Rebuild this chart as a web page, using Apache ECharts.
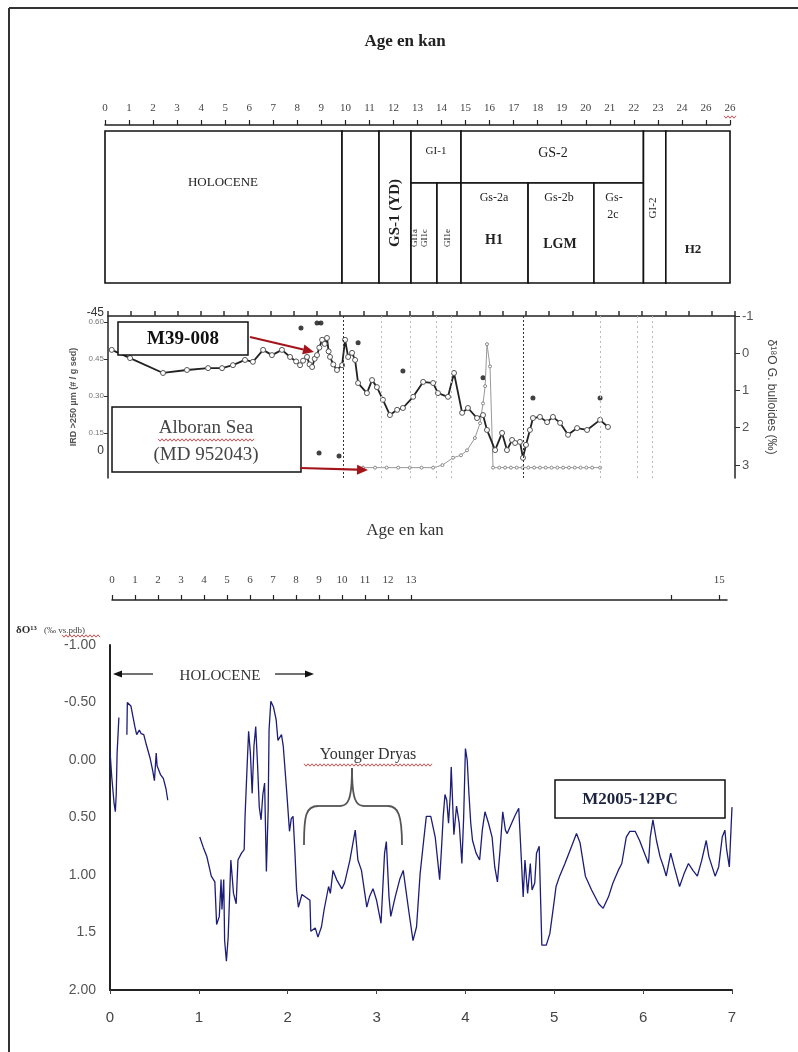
<!DOCTYPE html>
<html>
<head>
<meta charset="utf-8">
<title>Age en kan</title>
<script src="https://cdn.jsdelivr.net/npm/echarts@6/dist/echarts.min.js"></script>
<style>
  html, body { margin: 0; padding: 0; background: #fff; }
  #main { width: 798px; height: 1052px; }
</style>
</head>
<body>
<div id="main"></div>
<script>
// echelle du haut (age en kan), le 25 est ecrit 26 sur la figure
var topTickLabels = ['0','1','2','3','4','5','6','7','8','9','10','11','12','13','14','15','16','17','18','19','20','21','22','23','24','26','26']

// tableau stratigraphique : debut / fin (kan) et lignes (0 = haut, 1 = bas)
var periodStart  = [0,    9.86, 11.4,  12.73, 12.73, 13.81, 14.81, 14.81, 17.6,  20.34, 22.4,  23.33]
var periodEnd    = [9.86, 11.4, 12.73, 14.81, 13.81, 14.81, 22.4,  17.6,  20.34, 22.4,  23.33, 26]
var periodTop    = [0,    0,    0,     0,     0.342, 0.342, 0,     0.342, 0.342, 0.342, 0,     0]
var periodBottom = [1,    1,    1,     0.342, 1,     1,     0.342, 1,     1,     1,     1,     1]

// M39-008 : d18O G. bulloides (axe de droite)
var midAge = [0.16,0.95,2.37,3.40,4.31,4.91,5.38,5.90,6.24,6.68,
  7.06,7.49,7.84,8.10,8.27,8.40,8.57,8.68,8.79,8.90,
  9.00,9.10,9.22,9.33,9.43,9.50,9.56,9.70,9.86,10.08,
  10.21,10.34,10.51,10.64,10.77,11.15,11.37,11.58,11.84,12.14,
  12.45,12.70,13.14,13.57,14.00,14.21,14.64,14.90,15.25,15.50,
  15.89,16.15,16.32,16.67,16.97,17.18,17.40,17.53,17.74,17.87,
  18.00,18.17,18.30,18.60,18.91,19.16,19.47,19.81,20.20,20.63,
  21.19,21.53]
var midD18O = [-0.09,0.13,0.53,0.45,0.40,0.40,0.32,0.18,0.23,-0.09,
  0.05,-0.09,0.10,0.22,0.32,0.20,0.10,0.30,0.37,0.15,
  0.05,-0.15,-0.36,-0.25,-0.41,-0.05,0.10,0.30,0.45,0.32,
  -0.36,0.10,-0.01,0.18,0.80,1.07,0.72,0.91,1.25,1.66,
  1.52,1.47,1.17,0.77,0.80,1.07,1.17,0.53,1.60,1.47,
  1.74,1.66,2.06,2.60,2.14,2.60,2.33,2.41,2.38,2.81,
  2.46,2.06,1.74,1.71,1.85,1.71,1.87,2.19,2.01,2.06,
  1.79,1.98]

// IRD > 250 um (axe de gauche)
var irdAge = [10.98,11.5,12.0,12.5,13.0,13.5,14.0,14.4,14.86,15.2,
  15.46,15.8,16.02,16.15,16.24,16.32,16.45,16.58,16.85,17.1,
  17.35,17.6,17.85,18.1,18.35,18.6,18.85,19.1,19.35,19.6,
  19.85,20.1,20.35,20.6,20.85,21.19]
var irdValue = [0.01,0.01,0.01,0.01,0.01,0.01,0.01,0.02,0.05,0.06,
  0.08,0.13,0.19,0.27,0.34,0.51,0.42,0.01,0.01,0.01,
  0.01,0.01,0.01,0.01,0.01,0.01,0.01,0.01,0.01,0.01,
  0.01,0.01,0.01,0.01,0.01,0.01]

// points noirs (dates)
var dateAge  = [8.31, 9.0, 9.17, 10.77, 12.70, 16.15, 18.30, 21.19, 9.09, 9.95]
var dateD18O = [-0.68, -0.81, -0.81, -0.28, 0.48, 0.66, 1.20, 1.20, 2.68, 2.76]

var midDenseLines = [10.12, 17.9]
var midLightLines = [11.76, 13.0, 14.13, 14.77, 21.19, 22.78, 23.43]
var irdTicks = [0.15, 0.30, 0.45, 0.60]
var rightTicks = [-1, 0, 1, 2, 3]

// echelle du milieu
var rulerTicks = [0,1,2,3,4,5,6,7,8,9,10,11,12,13,24.3,26.4]
var rulerLabelValues = [0,1,2,3,4,5,6,7,8,9,10,11,12,13,26.4]
var rulerLabels = ['0','1','2','3','4','5','6','7','8','9','10','11','12','13','15']

// M2005-12PC (null = pas de donnees)
var bottomAge = [0.00,0.02,0.045,0.06,0.07,0.08,0.10,0.15,0.19,0.195,
  0.21,0.235,0.255,0.28,0.30,0.33,0.35,0.38,0.41,0.45,
  0.48,0.50,0.52,0.53,0.55,0.57,0.60,0.63,0.65,0.85,
  1.01,1.05,1.09,1.14,1.18,1.20,1.23,1.25,1.26,1.28,
  1.29,1.31,1.33,1.36,1.39,1.42,1.44,1.48,1.51,1.52,
  1.54,1.56,1.58,1.60,1.62,1.64,1.66,1.68,1.70,1.72,
  1.74,1.76,1.78,1.79,1.81,1.84,1.87,1.89,1.93,1.95,
  1.99,2.02,2.04,2.06,2.08,2.10,2.12,2.16,2.25,2.26,
  2.31,2.34,2.38,2.41,2.46,2.48,2.51,2.55,2.61,2.64,
  2.70,2.76,2.79,2.83,2.89,2.92,2.96,3.00,3.05,3.09,
  3.11,3.14,3.16,3.21,3.26,3.30,3.36,3.41,3.45,3.49,
  3.53,3.56,3.61,3.66,3.71,3.73,3.75,3.77,3.79,3.81,
  3.83,3.84,3.85,3.87,3.90,3.93,3.96,3.98,4.00,4.02,
  4.04,4.06,4.08,4.12,4.16,4.19,4.22,4.26,4.30,4.33,
  4.36,4.39,4.42,4.45,4.47,4.52,4.56,4.60,4.62,4.65,
  4.67,4.70,4.73,4.75,4.78,4.80,4.83,4.86,4.91,4.95,
  4.99,5.02,5.06,5.12,5.18,5.25,5.29,5.35,5.42,5.50,
  5.55,5.61,5.66,5.72,5.76,5.81,5.85,5.91,5.96,6.00,
  6.06,6.08,6.11,6.15,6.19,6.23,6.26,6.31,6.35,6.41,
  6.46,6.51,6.56,6.61,6.66,6.71,6.74,6.81,6.85,6.89,
  6.92,6.94,6.97,6.99,7.00]
var bottomD18O = [-0.08,0.15,0.37,0.45,0.30,-0.06,-0.37,null,-0.22,-0.50,
  -0.50,-0.47,-0.47,-0.29,-0.22,-0.26,-0.23,-0.22,-0.13,-0.02,
  0.09,0.18,-0.06,0.05,0.06,0.13,0.16,0.25,0.35,null,
  0.67,0.76,0.84,1.01,1.06,1.43,1.36,1.04,1.30,1.04,
  1.57,1.75,1.54,0.87,1.16,1.25,0.87,0.81,0.78,0.49,
  0.11,-0.25,-0.06,0.29,-0.12,-0.29,0.03,0.41,0.52,0.30,
  0.20,0.97,0.43,-0.26,-0.51,-0.46,-0.35,-0.17,-0.22,-0.12,
  0.29,0.62,0.51,0.49,0.78,1.13,1.28,1.17,1.22,1.49,
  1.46,1.54,1.45,1.30,1.10,1.16,0.96,1.04,1.12,1.07,
  0.87,0.61,0.87,0.96,1.28,1.19,1.12,1.22,1.42,0.81,
  0.71,1.19,1.36,1.19,1.04,0.96,1.30,1.57,1.45,0.99,
  0.70,0.49,0.49,0.67,1.04,0.78,0.49,0.30,0.35,0.55,
  0.30,0.06,0.25,0.65,0.40,0.55,0.90,0.50,-0.10,0.00,
  0.30,0.55,0.70,0.81,0.87,0.61,0.45,0.55,0.67,0.93,
  1.06,0.78,0.45,0.61,0.64,0.55,0.48,0.42,0.72,1.19,
  0.87,1.16,0.90,1.13,1.07,0.81,0.75,1.61,1.61,1.51,
  1.28,1.10,1.01,0.90,0.78,0.64,0.72,1.01,1.13,1.25,
  1.29,1.19,1.07,0.96,0.90,0.67,0.62,0.62,0.70,0.78,
  0.90,0.67,0.52,0.70,0.84,0.93,1.01,0.81,0.93,1.10,
  0.99,0.90,0.96,1.01,0.87,0.70,0.84,1.01,0.93,0.67,
  0.61,0.78,0.93,0.58,0.41]
var bottomYLabels = ['-1.00','-0.50','0.00','0.50','1.00','1.5','2.00']

var SERIF = '"Liberation Serif", "DejaVu Serif", serif'
var SANS = '"Liberation Sans", Arial, sans-serif'

function pairs (xs, ys) {
  return xs.map(function (x, i) { return [x, ys[i] === null ? '-' : ys[i]] })
}

// petits outils pour les annotations
function txt (x, y, text, font, opt) {
  opt = opt || {}
  return {
    type: 'text', z: 100, x: x, y: y, rotation: opt.rot || 0,
    style: {
      text: text, font: font, fill: opt.color || '#222',
      align: opt.align || 'center', verticalAlign: 'middle',
      textAlign: opt.align || 'center', textVerticalAlign: 'middle'
    }
  }
}
function box (x, y, w, h) {
  return { type: 'rect', z: 99, shape: { x: x, y: y, width: w, height: h }, style: { fill: '#fff', stroke: '#111', lineWidth: 1.5 } }
}
function seg (x1, y1, x2, y2, color, w) {
  return { type: 'line', z: 100, shape: { x1: x1, y1: y1, x2: x2, y2: y2 }, style: { stroke: color, lineWidth: w } }
}
function curve (x1, y1, c1x, c1y, c2x, c2y, x2, y2) {
  return {
    type: 'bezierCurve', z: 100,
    shape: { x1: x1, y1: y1, cpx1: c1x, cpy1: c1y, cpx2: c2x, cpy2: c2y, x2: x2, y2: y2 },
    style: { stroke: '#555', lineWidth: 1.8, fill: null }
  }
}
function arrow (x1, y1, x2, y2, color, w, hl, hw) {
  var dx = x2 - x1, dy = y2 - y1
  var len = Math.sqrt(dx * dx + dy * dy)
  var ux = dx / len, uy = dy / len
  var bx = x2 - ux * hl, by = y2 - uy * hl
  return [
    seg(x1, y1, bx, by, color, w),
    { type: 'polygon', z: 100, shape: { points: [[x2, y2], [bx - uy * hw, by + ux * hw], [bx + uy * hw, by - ux * hw]] }, style: { fill: color } }
  ]
}
function wavy (x0, x1, y) {
  var pts = []
  for (var x = x0, k = 0; x <= x1; x += 2, k++) pts.push([x, y + (k % 2 ? 1.2 : -1.2)])
  return { type: 'polyline', z: 100, shape: { points: pts }, style: { stroke: '#d42020', lineWidth: 0.8, fill: null } }
}

var graphics = [
  // cadre de la page
  seg(9, 8, 798, 8, '#333', 2),
  seg(9, 8, 9, 1052, '#333', 2),
  txt(405, 42, 'Age en kan', 'bold 17px ' + SERIF),
  wavy(724, 737, 117),
  // textes du tableau
  txt(223, 183, 'HOLOCENE', '13px ' + SERIF),
  txt(395, 213, 'GS-1 (YD)', 'bold 15px ' + SERIF, { rot: Math.PI / 2 }),
  txt(436, 151, 'GI-1', '11px ' + SERIF),
  txt(415, 238, 'GI1a', '9px ' + SERIF, { rot: Math.PI / 2 }),
  txt(425, 238, 'GI1c', '9px ' + SERIF, { rot: Math.PI / 2 }),
  txt(448, 238, 'GI1e', '9px ' + SERIF, { rot: Math.PI / 2 }),
  txt(553, 153, 'GS-2', '14px ' + SERIF),
  txt(494, 198, 'Gs-2a', '12px ' + SERIF),
  txt(494, 240, 'H1', 'bold 14px ' + SERIF),
  txt(559, 198, 'Gs-2b', '12px ' + SERIF),
  txt(560, 244, 'LGM', 'bold 14px ' + SERIF),
  txt(614, 198, 'Gs-', '12px ' + SERIF),
  txt(613, 215, '2c', '12px ' + SERIF),
  txt(653, 208, 'GI-2', '11px ' + SERIF, { rot: Math.PI / 2 }),
  txt(693, 250, 'H2', 'bold 13px ' + SERIF),
  // figure M39-008
  txt(104, 313, '-45', '12px ' + SANS, { align: 'right', color: '#333' }),
  txt(104, 451, '0', '12px ' + SANS, { align: 'right', color: '#333' }),
  box(118, 322, 130, 33),
  txt(183, 339, 'M39-008', 'bold 19px ' + SERIF, { color: '#111' }),
  box(112, 407, 189, 65),
  txt(206, 428, 'Alboran Sea', '19px ' + SERIF, { color: '#444' }),
  txt(206, 455, '(MD 952043)', '19px ' + SERIF, { color: '#444' }),
  wavy(158, 254, 440),
  txt(405, 531, 'Age en kan', '17px ' + SERIF, { color: '#333' }),
  // figure M2005-12PC
  txt(16, 630, 'δO¹³', 'bold 11px ' + SERIF, { align: 'left', color: '#333' }),
  txt(44, 631, '(‰ vs.pdb)', '9px ' + SERIF, { align: 'left', color: '#444' }),
  wavy(62, 100, 636),
  txt(220, 676, 'HOLOCENE', '15px ' + SERIF, { color: '#333' }),
  txt(368, 755, 'Younger Dryas', '16px ' + SERIF, { color: '#333' }),
  wavy(304, 432, 765),
  // accolade Younger Dryas
  curve(304, 845, 304, 815, 306, 806, 318, 806),
  seg(318, 806, 340, 806, '#555', 1.8),
  curve(340, 806, 348, 806, 352, 800, 352, 768),
  curve(352, 768, 352, 800, 356, 806, 364, 806),
  seg(364, 806, 388, 806, '#555', 1.8),
  curve(388, 806, 398, 806, 402, 815, 402, 845),
  box(555, 780, 170, 38),
  txt(630, 800, 'M2005-12PC', 'bold 17px ' + SERIF, { color: '#1c2340' })
]
graphics = graphics
  .concat(arrow(250, 337, 314, 352, '#a3151b', 2.2, 11, 5))
  .concat(arrow(300, 468, 368, 470, '#a3151b', 2.2, 11, 5))
  .concat(arrow(153, 674, 113, 674, '#111', 1.2, 9, 3.5))
  .concat(arrow(275, 674, 314, 674, '#111', 1.2, 9, 3.5))

var chart = echarts.init(document.getElementById('main'))

var axisLineDark = { show: true, onZero: false, lineStyle: { color: '#222', width: 1.5 } }

var option = {
  animation: false,
  backgroundColor: '#fff',
  grid: [
    { left: 105, right: 68, top: 131, height: 152 },
    { left: 108, right: 63, top: 316, bottom: 574 },
    { left: 112, right: 71, top: 600, height: 1 },
    { left: 110, right: 66, top: 645, bottom: 62 }
  ],
  xAxis: [
    {
      gridIndex: 0, type: 'value', position: 'top', offset: 6, min: 0, max: 26, interval: 1,
      axisLine: axisLineDark,
      axisTick: { show: true, length: 5, lineStyle: { color: '#222', width: 1.2 } },
      axisLabel: { margin: 11, fontFamily: SERIF, fontSize: 11, color: '#444', formatter: function (v) { return topTickLabels[v] } },
      splitLine: { show: false }
    },
    {
      gridIndex: 1, type: 'value', position: 'top', min: 0, max: 27, interval: 1,
      axisLine: axisLineDark,
      axisTick: { show: true, length: 5, lineStyle: { color: '#333', width: 1.5 } },
      axisLabel: { show: false },
      splitLine: { show: false }
    },
    {
      gridIndex: 2, type: 'value', position: 'top', min: 0, max: 26.74,
      axisLine: axisLineDark,
      axisTick: { show: true, customValues: rulerTicks, length: 5, lineStyle: { color: '#222', width: 1.2 } },
      axisLabel: {
        customValues: rulerLabelValues, margin: 14, fontFamily: SERIF, fontSize: 11, color: '#444',
        formatter: function (v) { return rulerLabels[rulerLabelValues.indexOf(v)] }
      },
      splitLine: { show: false }
    },
    {
      gridIndex: 3, type: 'value', min: 0, max: 7, interval: 1,
      axisLine: { show: true, onZero: false, lineStyle: { color: '#222', width: 2 } },
      axisTick: { show: true, length: 4, lineStyle: { color: '#444' } },
      axisLabel: { margin: 20, fontFamily: SANS, fontSize: 15, color: '#444' },
      splitLine: { show: false }
    }
  ],
  yAxis: [
    { gridIndex: 0, type: 'value', min: 0, max: 1, inverse: true, show: false },
    {
      gridIndex: 1, type: 'value', position: 'left', min: -0.032, max: 0.624,
      axisLine: axisLineDark,
      axisTick: { show: true, customValues: irdTicks, length: 4, lineStyle: { color: '#333' } },
      axisLabel: { customValues: irdTicks, margin: 4, fontSize: 8, color: '#777', fontFamily: SANS, formatter: function (v) { return v.toFixed(2) } },
      splitLine: { show: false },
      name: 'IRD >250 µm (# / g sed)', nameLocation: 'middle', nameRotate: 90, nameGap: 30,
      nameTextStyle: { fontSize: 9, fontWeight: 'bold', color: '#555', fontFamily: SANS }
    },
    {
      gridIndex: 1, type: 'value', position: 'right', inverse: true, min: -1, max: 3.35,
      axisLine: axisLineDark,
      axisTick: { show: true, customValues: rightTicks, length: 5, lineStyle: { color: '#333' } },
      axisLabel: { customValues: rightTicks, margin: 7, fontSize: 13, color: '#555', fontFamily: SANS },
      splitLine: { show: false },
      name: 'δ¹⁸O G. bulloides (‰)', nameLocation: 'middle', nameRotate: -90, nameGap: 30,
      nameTextStyle: { fontSize: 12, color: '#444', fontFamily: SANS }
    },
    { gridIndex: 2, type: 'value', min: 0, max: 1, show: false },
    {
      gridIndex: 3, type: 'value', inverse: true, min: -1, max: 2, interval: 0.5,
      axisLine: { show: true, onZero: false, lineStyle: { color: '#222', width: 2 } },
      axisTick: { show: false },
      axisLabel: { margin: 14, fontFamily: SANS, fontSize: 14, color: '#555', formatter: function (v) { return bottomYLabels[Math.round((v + 1) / 0.5)] } },
      splitLine: { show: false }
    }
  ],
  series: [
    {
      // tableau stratigraphique
      type: 'custom', xAxisIndex: 0, yAxisIndex: 0, silent: true,
      data: periodStart.map(function (s, i) { return [s, periodEnd[i], periodTop[i], periodBottom[i]] }),
      encode: { x: [0, 1], y: [2, 3] },
      renderItem: function (params, api) {
        var p0 = api.coord([api.value(0), api.value(2)])
        var p1 = api.coord([api.value(1), api.value(3)])
        return {
          type: 'rect',
          shape: { x: p0[0], y: p0[1], width: p1[0] - p0[0], height: p1[1] - p0[1] },
          style: { fill: '#fff', stroke: '#111', lineWidth: 1.6 }
        }
      }
    },
    {
      name: 'IRD', type: 'line', xAxisIndex: 1, yAxisIndex: 1,
      data: pairs(irdAge, irdValue),
      symbol: 'circle', symbolSize: 3,
      itemStyle: { color: '#fff', borderColor: '#888', borderWidth: 1 },
      lineStyle: { color: '#999', width: 1 },
      markLine: {
        silent: true, symbol: ['none', 'none'], label: { show: false },
        data: midDenseLines.map(function (v) { return { xAxis: v, lineStyle: { color: '#333', type: [2, 2], width: 1 } } })
          .concat(midLightLines.map(function (v) { return { xAxis: v, lineStyle: { color: '#bbb', type: [2, 3], width: 1 } } }))
      }
    },
    {
      name: 'd18O M39-008', type: 'line', xAxisIndex: 1, yAxisIndex: 2,
      data: pairs(midAge, midD18O),
      symbol: 'circle', symbolSize: 5,
      itemStyle: { color: '#fff', borderColor: '#555', borderWidth: 1 },
      lineStyle: { color: '#222', width: 1.8 }
    },
    {
      name: 'dates', type: 'scatter', xAxisIndex: 1, yAxisIndex: 2,
      data: pairs(dateAge, dateD18O),
      symbol: 'circle', symbolSize: 5,
      itemStyle: { color: '#111' }
    },
    {
      name: 'M2005-12PC', type: 'line', xAxisIndex: 3, yAxisIndex: 4,
      data: pairs(bottomAge, bottomD18O),
      connectNulls: false, showSymbol: false,
      lineStyle: { color: '#1d1d78', width: 1.3 }
    }
  ],
  graphic: { elements: graphics }
}

chart.setOption(option)
</script>
</body>
</html>
